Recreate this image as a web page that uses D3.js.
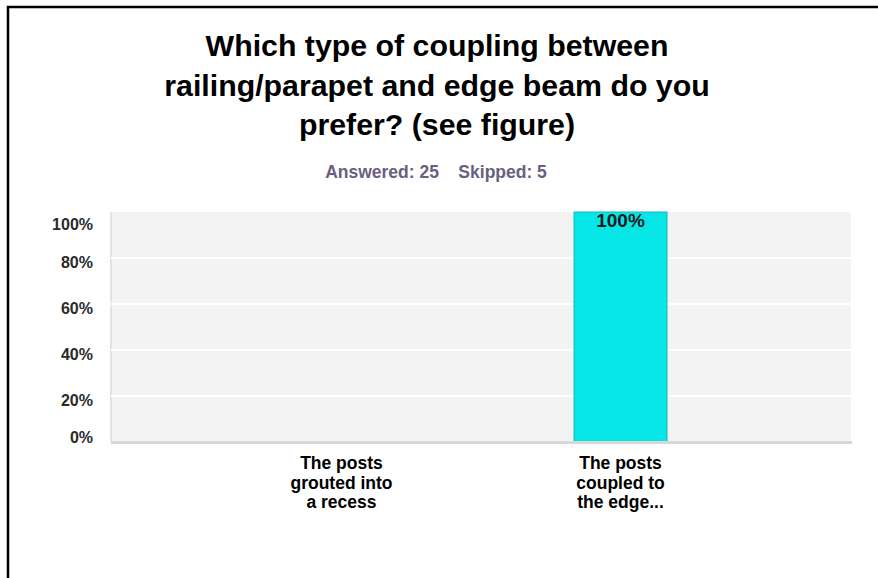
<!DOCTYPE html>
<html><head><meta charset="utf-8">
<script src="https://cdn.jsdelivr.net/npm/d3@7"></script>
<style>
html,body{margin:0;padding:0;background:#fff;}
svg{display:block;font-family:"Liberation Sans",Arial,sans-serif;}
</style></head>
<body>
<svg id="c" width="878" height="578"></svg>
<script>
const titleLines = ["Which type of coupling between", "railing/parapet and edge beam do you", "prefer? (see figure)"];
const subtitle = "Answered: 25    Skipped: 5";
const categories = ["The posts grouted into a recess", "The posts coupled to the edge..."];
const categoryLines = [["The posts", "grouted into", "a recess"], ["The posts", "coupled to", "the edge..."]];
const values = [0, 100];
const yTicks = [0, 20, 40, 60, 80, 100];

(function(){
const svg = d3.select("#c");
// frame
svg.append("line").attr("x1",7).attr("x2",878).attr("y1",7).attr("y2",7).attr("stroke","#000").attr("stroke-width",2.5);
svg.append("line").attr("x1",8).attr("x2",8).attr("y1",6).attr("y2",578).attr("stroke","#000").attr("stroke-width",2.5);

// title
svg.append("g").selectAll("text").data(titleLines).join("text")
  .attr("x",437).attr("y",(d,i)=>56+i*39.5)
  .attr("text-anchor","middle").attr("font-size",30.3).attr("font-weight","bold").attr("fill","#000")
  .text(d=>d);

svg.append("text").attr("x",436).attr("y",177.5).attr("text-anchor","middle")
  .attr("font-size",17.5).attr("font-weight","bold").attr("fill","#6a5f80")
  .style("white-space","pre")
  .text(subtitle);

const pLeft=111, pRight=851, pTop=212, pBottom=442;
const x = d3.scalePoint().domain(categories).range([pLeft,pRight]).padding(0.826);
const y = d3.scaleLinear().domain([0,100]).range([pBottom,pTop]);

svg.append("rect").attr("x",pLeft).attr("y",pTop).attr("width",pRight-pLeft).attr("height",pBottom-pTop).attr("fill","#f3f3f3");
svg.append("line").attr("x1",pLeft).attr("x2",pLeft).attr("y1",pTop).attr("y2",pBottom).attr("stroke","#dcdcdc").attr("stroke-width",1.5);

// gridlines
svg.append("g").selectAll("line").data(yTicks.filter(v=>v>0&&v<100)).join("line")
  .attr("x1",pLeft).attr("x2",pRight).attr("y1",d=>y(d)).attr("y2",d=>y(d))
  .attr("stroke","#ffffff").attr("stroke-width",2);

// y labels
svg.append("g").selectAll("text").data(yTicks).join("text")
  .attr("x",93).attr("y",d=>Math.max(pTop+18, Math.min(pBottom+1, y(d)+10)))
  .attr("text-anchor","end").attr("font-size",16).attr("font-weight","bold").attr("fill","#2a2a2a")
  .text(d=>d+"%");

// bars
const bw = 93;
svg.append("g").selectAll("rect").data(values).join("rect")
  .attr("x",(d,i)=>x(categories[i])-bw/2).attr("y",d=>y(d))
  .attr("width",bw).attr("height",d=>y(0)-y(d))
  .attr("fill","#07e6e6").attr("stroke","#19b8b8").attr("stroke-width",1);

// bottom axis line
svg.append("line").attr("x1",pLeft).attr("x2",pRight+1).attr("y1",pBottom+0.5).attr("y2",pBottom+0.5).attr("stroke","#d8d8d8").attr("stroke-width",3);

// value labels
svg.append("g").selectAll("text").data(values.map((v,i)=>({v,i})).filter(d=>d.v>0)).join("text")
  .attr("x",d=>x(categories[d.i])).attr("y",d=>y(d.v)+15)
  .attr("text-anchor","middle").attr("font-size",19).attr("font-weight","bold").attr("fill","#1a1a1a")
  .text(d=>d.v+"%");

// category labels
categories.forEach((c,i)=>{
  svg.append("g").selectAll("text").data(categoryLines[i]).join("text")
    .attr("x",x(c)).attr("y",(d,j)=>469+j*19.5)
    .attr("text-anchor","middle").attr("font-size",17.5).attr("font-weight","bold").attr("fill","#000")
    .text(d=>d);
});
})();
</script>
</body></html>
